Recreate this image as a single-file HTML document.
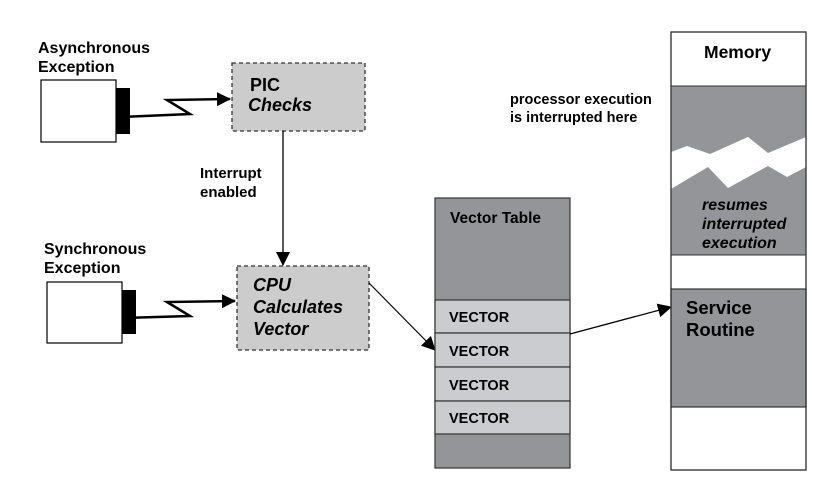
<!DOCTYPE html>
<html><head><style>body{margin:0;background:#fff}</style></head><body>
<svg width="830" height="497" xmlns="http://www.w3.org/2000/svg" font-family="Liberation Sans, sans-serif" font-weight="bold">
<defs><marker id="b" markerWidth="14" markerHeight="14" refX="13" refY="7" orient="auto" markerUnits="userSpaceOnUse"><path d="M0,0 L14,7 L0,14z" fill="#000"/></marker></defs>
<rect width="830" height="497" fill="#fff"/>
<!-- async -->
<text x="38" y="53" font-size="16">Asynchronous</text>
<text x="38" y="72" font-size="16">Exception</text>
<rect x="41" y="80" width="75" height="62" fill="#fff" stroke="#000" stroke-width="1.2"/>
<rect x="116" y="88" width="14" height="46" fill="#000"/>
<polyline points="122,117 190,114 167,100 230,99" fill="none" stroke="#000" stroke-width="2.5" marker-end="url(#b)"/>
<rect x="232" y="63" width="133" height="68" fill="#ccc" stroke="#333" stroke-width="1.3" stroke-dasharray="4,3"/>
<text x="250" y="91" font-size="18">PIC</text>
<text x="248" y="111" font-size="18" font-style="italic">Checks</text>
<line x1="283" y1="131" x2="283" y2="265" stroke="#000" stroke-width="1.3" marker-end="url(#b)"/>
<text x="200" y="178" font-size="15">Interrupt</text>
<text x="200" y="197" font-size="15">enabled</text>
<!-- sync -->
<text x="44" y="254" font-size="16">Synchronous</text>
<text x="44" y="273" font-size="16">Exception</text>
<rect x="47" y="282" width="75" height="61" fill="#fff" stroke="#000" stroke-width="1.2"/>
<rect x="122" y="290" width="14" height="44" fill="#000"/>
<polyline points="122,318 190,316 167,302 235,301" fill="none" stroke="#000" stroke-width="2.5" marker-end="url(#b)"/>
<rect x="237" y="266" width="132" height="84" fill="#ccc" stroke="#333" stroke-width="1.3" stroke-dasharray="4,3"/>
<g font-size="18" font-style="italic"><text x="253" y="291">CPU</text><text x="253" y="313">Calculates</text><text x="253" y="335">Vector</text></g>
<line x1="369" y1="283" x2="435" y2="350" stroke="#000" stroke-width="1.2" marker-end="url(#b)"/>
<!-- vector table -->
<rect x="435" y="198" width="135" height="270" fill="#939598" stroke="#333" stroke-width="1.2"/>
<text x="450" y="223" font-size="15.5">Vector Table</text>
<g fill="#cbcccf" stroke="#333" stroke-width="1.2">
<rect x="435" y="300" width="135" height="33"/><rect x="435" y="333" width="135" height="34"/><rect x="435" y="367" width="135" height="34"/><rect x="435" y="401" width="135" height="33"/></g>
<g font-size="14.5"><text x="449" y="322">VECTOR</text><text x="449" y="356">VECTOR</text><text x="449" y="390">VECTOR</text><text x="449" y="423">VECTOR</text></g>
<line x1="570" y1="334" x2="671" y2="307" stroke="#000" stroke-width="1.3" marker-end="url(#b)"/>
<!-- memory -->
<text x="510" y="104" font-size="14.5">processor execution</text>
<text x="510" y="122" font-size="14.5">is interrupted here</text>
<rect x="671" y="32" width="135" height="438" fill="#fff" stroke="#333" stroke-width="1.2"/>
<path d="M671,86 L806,86 L806,137 L768,153 L748,137 L710,154 L687,146 L671,152z" fill="#939598"/>
<path d="M671,189 L708,167 L728,188 L768,166 L787,177 L806,167 L806,255 L671,255z" fill="#939598"/>
<line x1="671" y1="86" x2="806" y2="86" stroke="#333"/>
<line x1="671" y1="255" x2="806" y2="255" stroke="#333"/>
<rect x="671" y="289" width="135" height="118" fill="#939598" stroke="#333" stroke-width="1.2"/>
<rect x="671" y="32" width="135" height="438" fill="none" stroke="#333" stroke-width="1.2"/>
<text x="704" y="58" font-size="17.5">Memory</text>
<g font-size="16" font-style="italic"><text x="702" y="210">resumes</text><text x="702" y="229">interrupted</text><text x="702" y="248">execution</text></g>
<text x="686" y="314" font-size="18.5">Service</text>
<text x="686" y="336" font-size="18.5">Routine</text>
</svg>
</body></html>
